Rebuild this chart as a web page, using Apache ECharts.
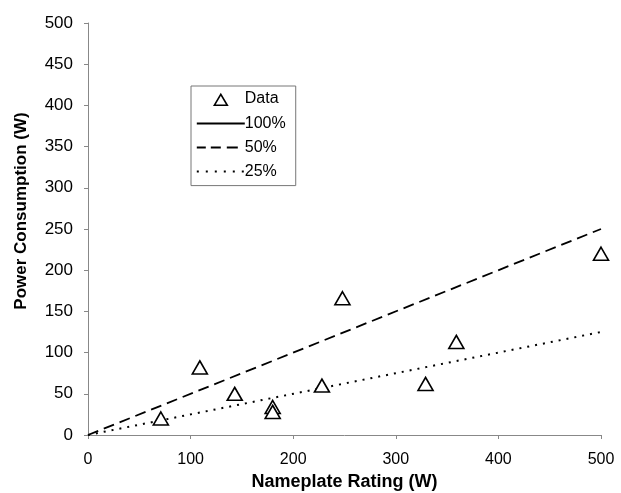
<!DOCTYPE html>
<html>
<head>
<meta charset="utf-8">
<script src="https://cdn.jsdelivr.net/npm/echarts@6/dist/echarts.min.js"></script>
<style>
  html, body { margin: 0; padding: 0; background: #fff; }
  #chart { width: 621px; height: 493px; }
</style>
</head>
<body>
<div id="chart"></div>
<script>
// Measured nameplate rating vs. power consumption (W)
const nameplate = [71, 109, 143, 180, 180, 228, 248, 329, 359, 500];
const consumption = [20, 82, 50, 34, 28, 60, 166, 62, 113, 220];

// Reference lines: endpoints for 100%, 50% and 25% of nameplate
const line100 = [];
const line50 = [[0, 0], [500, 250]];
const line25 = [[0, 0], [500, 125]];

const font = 'Liberation Sans, Arial, sans-serif';
const points = nameplate.map((x, i) => [x, consumption[i]]);

// Legend icons; the leading moves fix the icon box at 48x16 so shapes keep their proportions
const BOX = 'path://M0,0 M48,16 ';
const iconTriangle = BOX + 'M17.5,14.5 L24,3.5 L30.5,14.5 Z';
const iconSolid = BOX + 'M0,7 h48 v2 h-48 Z';
const iconDashed = BOX + 'M0,7 h9 v2 h-9 Z M14,7 h10 v2 h-10 Z M30,7 h11 v2 h-11 Z';
const iconDotted = BOX + 'M0,7 h2 v2 h-2 Z M9,7 h2 v2 h-2 Z M18,7 h2 v2 h-2 Z M27,7 h2 v2 h-2 Z M36,7 h2 v2 h-2 Z M45,7 h2 v2 h-2 Z';

const lineIconStyle = { color: '#000', borderWidth: 0 };

const chart = echarts.init(document.getElementById('chart'), null, { renderer: 'canvas' });
chart.setOption({
  animation: false,
  backgroundColor: '#fff',
  grid: { left: 88, right: 20, top: 23, bottom: 58, outerBoundsMode: 'none', containLabel: false },
  legend: {
    left: 191, top: 86,
    orient: 'vertical',
    backgroundColor: '#fff',
    borderColor: '#777', borderWidth: 1, borderRadius: 0,
    padding: [4, 10, 6, 5],
    itemGap: 8,
    itemWidth: 48, itemHeight: 16,
    textStyle: { fontFamily: font, fontSize: 16, color: '#000', padding: [0, 0, 0, -5] },
    data: [
      { name: 'Data', icon: iconTriangle, itemStyle: { color: '#fff', borderColor: '#000', borderWidth: 1.6 } },
      { name: '100%', icon: iconSolid, itemStyle: lineIconStyle },
      { name: '50%', icon: iconDashed, itemStyle: lineIconStyle },
      { name: '25%', icon: iconDotted, itemStyle: lineIconStyle }
    ]
  },
  xAxis: {
    type: 'value', min: 0, max: 500, interval: 100,
    name: 'Nameplate Rating (W)', nameLocation: 'middle', nameGap: 28,
    nameTextStyle: { fontFamily: font, fontSize: 18, fontWeight: 'bold', color: '#000' },
    axisLine: { lineStyle: { color: '#888', width: 1 } },
    axisTick: { show: true, length: 4, lineStyle: { color: '#888' } },
    axisLabel: { fontFamily: font, fontSize: 16, color: '#000', margin: 17 },
    splitLine: { show: false }
  },
  yAxis: {
    type: 'value', min: 0, max: 500, interval: 50,
    name: 'Power Consumption (W)', nameLocation: 'middle', nameGap: 58,
    nameTextStyle: { fontFamily: font, fontSize: 17, fontWeight: 'bold', color: '#000', padding: [0, 0, 0, 36] },
    axisLine: { show: true, lineStyle: { color: '#888', width: 1 } },
    axisTick: { show: true, length: 4, lineStyle: { color: '#888' } },
    axisLabel: { fontFamily: font, fontSize: 17, color: '#000', margin: 15 },
    splitLine: { show: false }
  },
  series: [
    {
      name: 'Data', type: 'scatter', data: points,
      symbol: 'triangle', symbolSize: [15, 13],
      itemStyle: { color: '#fff', borderColor: '#000', borderWidth: 1.6, opacity: 1 },
      z: 5
    },
    {
      name: '100%', type: 'line', data: line100, symbol: 'none',
      lineStyle: { color: '#000', width: 2, type: 'solid' },
      itemStyle: { color: '#000' }
    },
    {
      name: '50%', type: 'line', data: line50, symbol: 'none',
      lineStyle: { color: '#000', width: 1.8, type: [11, 6] },
      itemStyle: { color: '#000' }
    },
    {
      name: '25%', type: 'line', data: line25, symbol: 'none',
      lineStyle: { color: '#000', width: 2, type: [2, 6] },
      itemStyle: { color: '#000' }
    }
  ]
});
</script>
</body>
</html>
